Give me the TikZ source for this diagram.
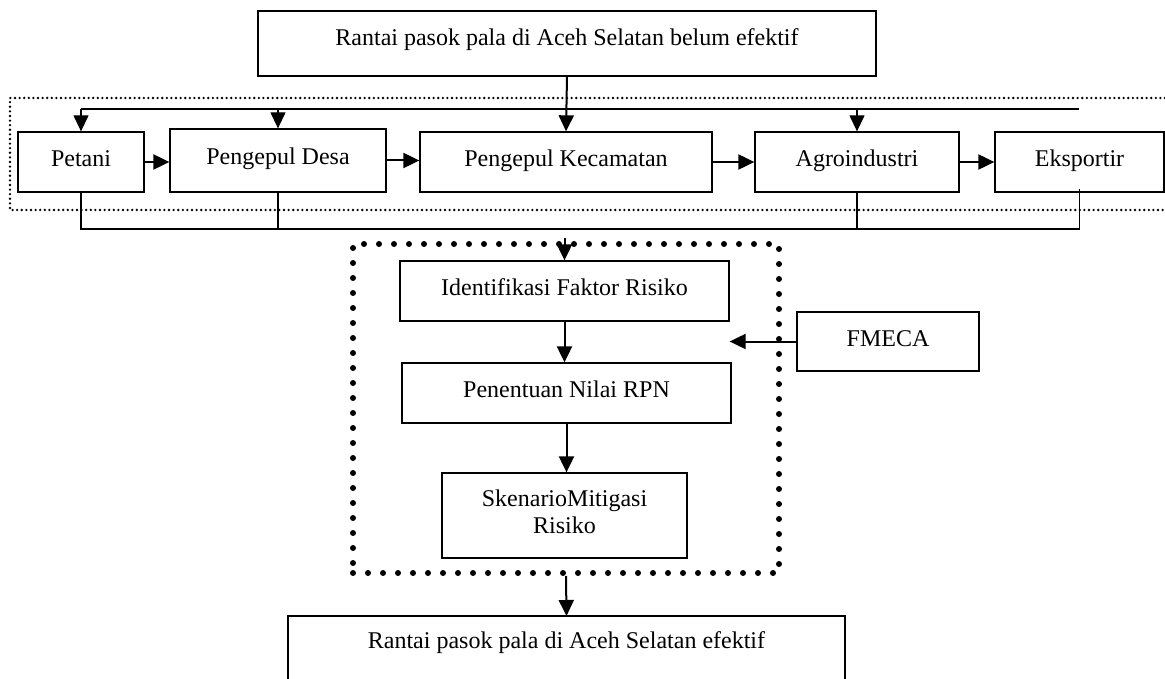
\documentclass[tikz,border=0pt]{standalone}
\usepackage{fontspec}
\setmainfont{Liberation Serif}
\usetikzlibrary{arrows.meta}
\begin{document}
\begin{tikzpicture}[x=1pt,y=-1pt,
  font=\fontsize{24}{27}\selectfont,
  box/.style={draw, line width=1.3pt, inner sep=0pt, text height=17pt, text depth=8pt},
  thinline/.style={line width=1.3pt},
  arr/.style={line width=2pt, -{Triangle[length=16pt,width=15pt]}},
  tarr/.style={line width=1.3pt, -{Triangle[length=16pt,width=15pt]}},
  finedots/.style={line width=2.6pt, dash pattern=on 0pt off 4.6pt, line cap=round},
  bigdots/.style={line width=6pt, dash pattern=on 0pt off 15pt, line cap=round}]
\useasboundingbox (0,0) rectangle (1165,679);

% outer dotted frame (open on the right)
\draw[finedots] (1165,98) -- (10,98) -- (10,210) -- (1165,210);

% nodes
\node[box, minimum width=618pt, minimum height=65pt, text depth=13pt] (top) at (567,43.5) {Rantai pasok pala di Aceh Selatan belum efektif};
\node[box, minimum width=126pt, minimum height=60pt] (pet) at (81,162) {Petani};
\node[box, minimum width=216pt, minimum height=63pt] (desa) at (278,160.5) {Pengepul Desa};
\node[box, minimum width=292pt, minimum height=60pt] (kec) at (566,162) {Pengepul Kecamatan};
\node[box, minimum width=204pt, minimum height=60pt] (agro) at (857,162) {Agroindustri};
\node[box, minimum width=169pt, minimum height=60pt] (eks) at (1079.5,162) {Eksportir};

\node[draw, bigdots, minimum width=426pt, minimum height=329pt, inner sep=0pt] (frame) at (566,408.5) {};

\node[box, minimum width=329pt, minimum height=60pt] (ident) at (564.5,291) {Identifikasi Faktor Risiko};
\node[box, minimum width=329pt, minimum height=60pt] (pen) at (566.5,393) {Penentuan Nilai RPN};
\node[box, minimum width=245pt, minimum height=85pt, align=center, text height=44pt, text depth=9pt] (sken) at (564.5,515.5) {SkenarioMitigasi\\Risiko};
\node[box, minimum width=182pt, minimum height=59pt] (fm) at (888,341.5) {FMECA};

\node[anchor=base, inner sep=0pt] (bot) at (566.5,648) {Rantai pasok pala di Aceh Selatan efektif};
\draw[thinline] (288,680) -- (288,616) -- (845,616) -- (845,680);
\coordinate (botTop) at (566.5,616);

% connectors: top
\coordinate (fbR) at (1079,109);
\draw[arr] (top.south) -- (kec.north);
\draw[thinline] (fbR) -- (fbR -| pet.north);
\draw[tarr] (fbR -| pet.north) -- (pet.north);
\draw[tarr] (fbR -| desa.north) -- (desa.north);
\draw[tarr] (fbR -| agro.north) -- (agro.north);

% horizontal flow
\draw[arr] (pet.east) -- (pet.east -| desa.west);
\draw[arr] (desa.east) -- (desa.east -| kec.west);
\draw[arr] (kec.east) -- (kec.east -| agro.west);
\draw[arr] (agro.east) -- (agro.east -| eks.west);

% collection bus
\coordinate (busR) at (1079.5,229);
\draw[thinline] (pet.south) -- (pet.south |- busR) -- (busR) -- ([yshift=4pt]eks.south);
\draw[thinline] (desa.south) -- (desa.south |- busR);
\draw[thinline] (agro.south) -- (agro.south |- busR);
\draw[arr] ([yshift=-9pt]ident.north |- busR) -- (ident.north);

% inner flow
\draw[arr] (ident.south) -- (ident.south |- pen.north);
\draw[arr] (pen.south) -- (pen.south |- sken.north);
\draw[arr] (fm.west) -- (fm.west -| ident.east);
\draw[arr] (frame.south) -- (botTop);
\end{tikzpicture}
\end{document}
